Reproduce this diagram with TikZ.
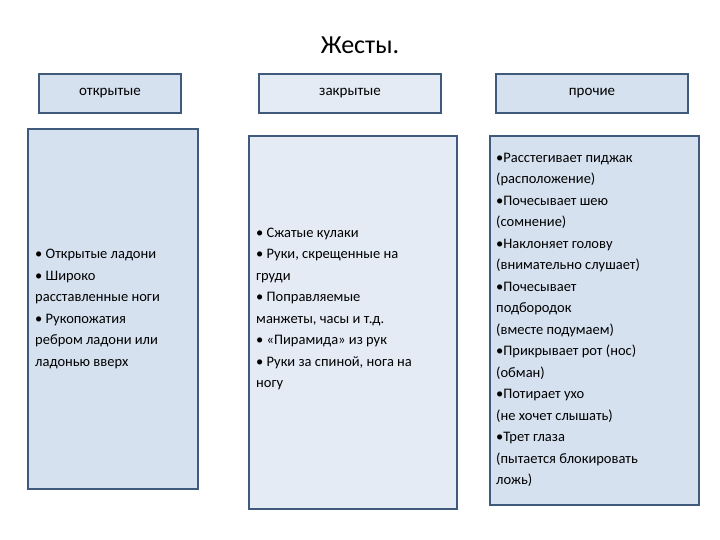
\documentclass[tikz,border=0pt]{standalone}
\usepackage{fontspec}
\setmainfont{Carlito}
\definecolor{bord}{HTML}{3F5A7A}
\definecolor{fillA}{HTML}{D6E1EF}
\definecolor{fillB}{HTML}{E4EBF5}
\tikzset{hdr/.style={draw=bord,line width=2pt,fill=#1,anchor=north west,inner sep=0pt,font=\fontsize{15}{18}\selectfont},
 body/.style={draw=bord,line width=2pt,fill=#1,anchor=north west},
 txt/.style={anchor=west,align=left,font=\fontsize{14.5}{21.5}\selectfont,inner sep=0pt}}
\begin{document}
\begin{tikzpicture}[x=1pt,y=-1pt]
\useasboundingbox (0,0) rectangle (720,540);
\node[font=\fontsize{26}{30}\selectfont] (title) at (360,45) {Жесты.};
\node[hdr=fillA,minimum width=142pt,minimum height=39pt] (h1) at (38,73) {открытые};
\node[hdr=fillB,minimum width=182pt,minimum height=39pt] (h2) at (258,73) {закрытые};
\node[hdr=fillA,minimum width=192pt,minimum height=39pt] (h3) at (495,73) {прочие};
\node[body=fillA,minimum width=170pt,minimum height=360pt] (b1) at (27,128) {};
\node[body=fillB,minimum width=208pt,minimum height=373pt] (b2) at (248,135) {};
\node[body=fillA,minimum width=209pt,minimum height=369pt] (b3) at (489,135) {};
\node[txt] (t1) at (35,309) {• Открытые ладони\\• Широко\\расставленные ноги\\• Рукопожатия\\ребром ладони или\\ладонью вверх};
\node[txt] (t2) at (256,309) {• Сжатые кулаки\\• Руки, скрещенные на\\груди\\• Поправляемые\\манжеты, часы и т.д.\\• «Пирамида» из рук\\• Руки за спиной, нога на\\ногу};
\node[txt] (t3) at (496,320) {•Расстегивает пиджак\\(расположение)\\•Почесывает шею\\(сомнение)\\•Наклоняет голову\\(внимательно слушает)\\•Почесывает\\подбородок\\(вместе подумаем)\\•Прикрывает рот (нос)\\(обман)\\•Потирает ухо\\(не хочет слышать)\\•Трет глаза\\(пытается блокировать\\ложь)};
\end{tikzpicture}
\end{document}
